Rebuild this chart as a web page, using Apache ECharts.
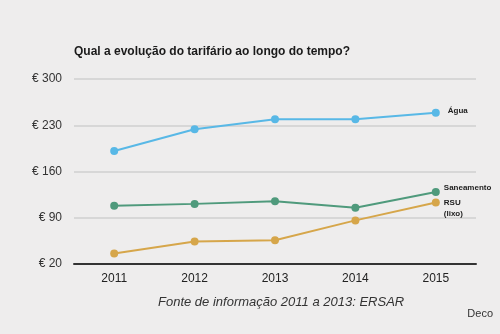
<!DOCTYPE html>
<html>
<head>
<meta charset="utf-8">
<script src="https://cdn.jsdelivr.net/npm/echarts@6/dist/echarts.min.js"></script>
<style>
html,body{margin:0;padding:0;background:#eeeded;}
#chart{width:500px;height:334px;}
</style>
</head>
<body>
<div id="chart"></div>
<script>
// Tariff evolution per service, 2011–2015 (euros)
const years = ['2011', '2012', '2013', '2014', '2015'];
const agua = [191, 224, 239, 239, 249];
const saneamento = [108, 111, 115, 105, 129];
const rsu = [36, 54, 56, 86, 113];
const yTicks = [20, 90, 160, 230, 300];

const chart = echarts.init(document.getElementById('chart'), null, {renderer: 'canvas'});
const font = 'Liberation Sans, Arial, sans-serif';

function lineSeries(name, data, color, labelText, offset) {
  return {
    name: name,
    type: 'line',
    data: data,
    symbol: 'circle',
    symbolSize: 8,
    lineStyle: {color: color, width: 2},
    itemStyle: {color: color},
    emphasis: {disabled: true},
    endLabel: {
      show: true,
      formatter: labelText,
      color: '#222',
      fontFamily: font,
      fontSize: 8,
      fontWeight: 'bold',
      lineHeight: 11,
      offset: offset,
      align: 'left'
    }
  };
}

chart.setOption({
  backgroundColor: '#eeeded',
  animation: false,
  title: {
    text: 'Qual a evolução do tarifário ao longo do tempo?',
    left: 74,
    top: 46,
    padding: 0,
    textStyle: {fontFamily: font, fontSize: 12, fontWeight: 'bold', color: '#1a1a1a'}
  },
  graphic: [
    {
      type: 'text',
      left: 158,
      top: 296,
      style: {
        text: 'Fonte de informação 2011 a 2013: ERSAR',
        font: 'italic 13px ' + font,
        fill: '#333'
      }
    },
    {
      type: 'text',
      right: 7,
      top: 308,
      style: {text: 'Deco', font: '11px ' + font, fill: '#333'}
    }
  ],
  grid: {left: 74, right: 24, top: 79, bottom: 70},
  xAxis: {
    type: 'category',
    data: years,
    boundaryGap: true,
    axisLine: {lineStyle: {color: '#333', width: 2}},
    axisTick: {show: false},
    axisLabel: {color: '#222', fontFamily: font, fontSize: 12, margin: 9}
  },
  yAxis: {
    type: 'value',
    min: yTicks[0],
    max: yTicks[yTicks.length - 1],
    interval: yTicks[1] - yTicks[0],
    axisLine: {show: false},
    axisTick: {show: false},
    splitLine: {lineStyle: {color: '#cfcfcf', width: 1.5}},
    axisLabel: {
      color: '#333',
      fontFamily: font,
      fontSize: 12,
      margin: 12,
      formatter: v => '€ ' + v
    }
  },
  series: [
    lineSeries('Água', agua, '#58b8e6', 'Água', [4, -2]),
    lineSeries('Saneamento', saneamento, '#4f9a7c', 'Saneamento', [0, -4]),
    lineSeries('RSU', rsu, '#d6a64a', 'RSU\n(lixo)', [0, 6])
  ]
});
</script>
</body>
</html>
